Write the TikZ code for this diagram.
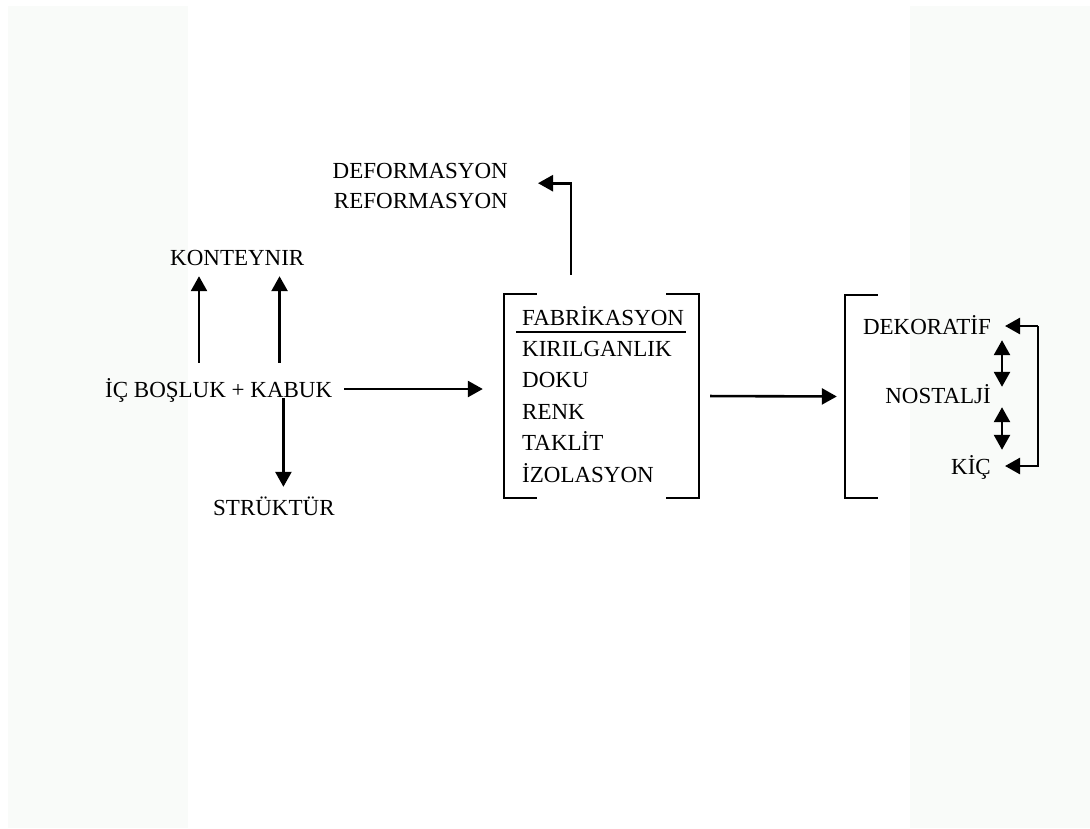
\documentclass[tikz,border=0pt]{standalone}
\usepackage{fontspec}
\setmainfont{Liberation Serif}
\usepackage{tikz}
\usetikzlibrary{arrows.meta}
\definecolor{panel}{RGB}{249, 251, 249}

\tikzset{
  txt/.style={inner sep=0, text height=16pt, text depth=0pt, font=\fontsize{23}{28}\selectfont},
  arr/.style={-{Triangle[length=15pt, width=16pt]}, line width=2.6pt},
  dbl/.style={{Triangle[length=15pt, width=16pt]}-{Triangle[length=15pt, width=16pt]}, line width=2.6pt},
  brk/.style={line width=2.2pt}
}

\begin{document}
\begin{tikzpicture}[x=1pt, y=-1pt]
  \useasboundingbox (0, 0) rectangle (1090, 828);
  \fill[white] (0, 0) rectangle (1090, 828);
  \fill[panel] (8, 6) rectangle (188, 828);
  \fill[panel] (910, 6) rectangle (1090, 828);

  % left part
  \node[txt, anchor=base west] (kon) at (170, 265) {KONTEYNIR};
  \node[txt, anchor=base west] (core) at (105, 397) {İÇ BOŞLUK + KABUK};
  \node[txt, anchor=base west] (str) at (213, 515) {STRÜKTÜR};

  \coordinate (kL) at ([xshift=29pt]kon.south west);
  \coordinate (kR) at ([xshift=-25pt]kon.south east);
  \draw[arr, shorten <=18pt, shorten >=11pt] (kL |- core.north) -- (kL);
  \draw[arr, shorten <=18pt, shorten >=11pt] (kR |- core.north) -- (kR);
  \draw[arr, shorten <=1pt, shorten >=12pt] ([xshift=-49pt]core.south east) -- ([xshift=-49pt]core.south east |- str.north);

  % middle box
  \node[minimum width=195pt, minimum height=204pt, inner sep=0] (box) at (601.5, 396) {};
  \draw[brk] ([xshift=33pt]box.north west) -- (box.north west) -- (box.south west) -- ([xshift=33pt]box.south west);
  \draw[brk] ([xshift=-33pt]box.north east) -- (box.north east) -- (box.south east) -- ([xshift=-33pt]box.south east);

  \node[txt, anchor=base west] (fab) at (522, 325) {FABRİKASYON};
  \draw[line width=2.2pt] ([xshift=-6pt, yshift=-7pt]fab.south west) -- ([xshift=2pt, yshift=-7pt]fab.south east);
  \foreach [count=\n] \w in {KIRILGANLIK, DOKU, RENK, TAKLİT, İZOLASYON} {
    \node[txt, anchor=base west] (prop\n) at ([yshift={-31.4pt*\n}]fab.base west) {\w};
  }

  \draw[arr, shorten <=12pt, shorten >=21pt] (core.east) -- (core.east -| box.west);

  \node[txt, anchor=base east] (defo) at (508, 178) {DEFORMASYON};
  \node[txt, anchor=base east] (refo) at (508, 208) {REFORMASYON};
  \coordinate (up) at ([xshift=67pt, yshift=19pt]box.north west);
  \draw[arr, shorten >=30pt] (up) |- ([yshift=-5pt]defo.south east);

  % right group
  \node[minimum width=195pt, minimum height=203pt, inner sep=0] (grp) at (942.5, 396.5) {};
  \draw[brk] ([xshift=33pt]grp.north west) -- (grp.north west) -- (grp.south west) -- ([xshift=33pt]grp.south west);
  \draw[arr, shorten <=11pt, shorten >=8pt] (box.east) -- (grp.west);

  \node[txt, anchor=base east] (dek) at (991, 334) {DEKORATİF};
  \node[txt, anchor=base east] (nos) at (991, 403) {NOSTALJİ};
  \node[txt, anchor=base east] (kic) at (991, 474) {KİÇ};

  \draw[dbl, shorten <=6pt] ([xshift=11pt]dek.south east) -- ([xshift=11pt]nos.north east);
  \draw[dbl, shorten <=4pt, shorten >=8pt] ([xshift=11pt]nos.south east) -- ([xshift=11pt]kic.north east);
  \draw[arr, shorten >=14pt] ([xshift=47pt]dek.east) -- (dek.east);
  \draw[arr, shorten >=14pt] ([xshift=47pt]dek.east) |- (kic.east);
\end{tikzpicture}
\end{document}
